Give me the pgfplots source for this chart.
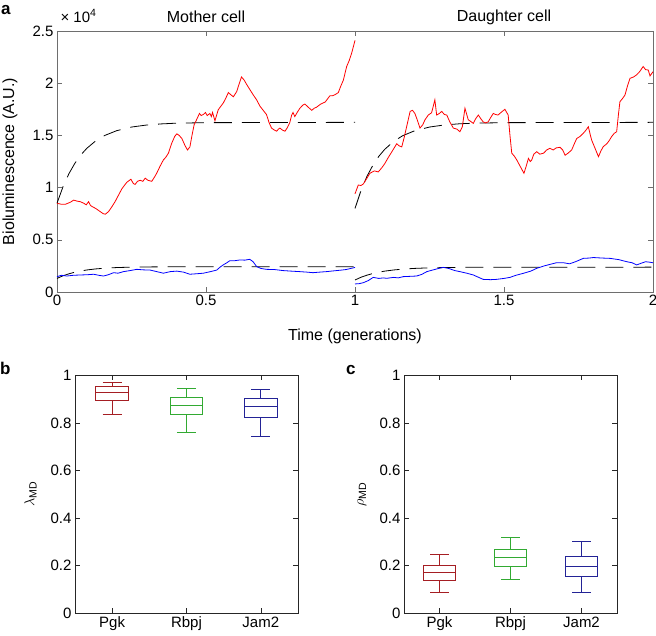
\documentclass[border=0pt]{standalone}
\usepackage{fontspec}
\setmainfont{Liberation Sans}
\usepackage{pgfplots}
\pgfplotsset{compat=1.18}
\usepgfplotslibrary{statistics}
\definecolor{pgkc}{RGB}{165,30,35}
\definecolor{rbpjc}{RGB}{50,170,50}
\definecolor{jamc}{RGB}{35,35,150}
\definecolor{fr}{RGB}{110,110,110}
\begin{document}
\begin{tikzpicture}
\useasboundingbox (0,0) rectangle (656pt,636pt);
\pgfplotsset{
  every axis/.append style={
    scale only axis, anchor=south west,
    tick align=inside, major tick length=5pt,
    /pgf/number format/assume math mode=true,
    tick label style={font=\fontsize{15}{18}\selectfont},
    label style={font=\fontsize{16}{19}\selectfont},
  }
}
% ---------- panel a ----------
\begin{axis}[at={(57pt,344pt)}, width=596pt, height=261pt,
  xmin=0, xmax=2, ymin=0, ymax=2.5,
  xtick={0,0.5,1,1.5,2}, ytick={0,0.5,1,1.5,2,2.5},
  axis line style={fr}, tick style={fr},
  xlabel={Time (generations)}, ylabel={Bioluminescence (A.U.)},
  xlabel style={at={(axis description cs:0.5,-0.17)}, anchor=center},
  ylabel style={at={(axis description cs:-0.079,0.5)}, anchor=center, rotate=0},
  clip=false]
% model curves (dashed)
\addplot[black, line width=0.8pt, dash pattern=on 18pt off 10pt] coordinates {
(0,0.85) (0.02,1.007) (0.04,1.133) (0.06,1.233) (0.08,1.313) (0.1,1.376) (0.13,1.448) (0.16,1.499) (0.2,1.545) (0.25,1.58) (0.3,1.599) (0.35,1.61) (0.4,1.617) (0.5,1.622) (1.0,1.625)};
\addplot[black, line width=0.8pt, dash pattern=on 18pt off 10pt] coordinates {
(1.0,0.80) (1.02,0.971) (1.04,1.107) (1.06,1.214) (1.08,1.30) (1.1,1.367) (1.13,1.443) (1.16,1.497) (1.2,1.544) (1.25,1.58) (1.3,1.60) (1.35,1.611) (1.4,1.617) (1.5,1.622) (2.0,1.625)};
\addplot[black, line width=0.8pt, dash pattern=on 18pt off 10pt] coordinates {
(0,0.13) (0.02,0.155) (0.04,0.174) (0.06,0.19) (0.08,0.201) (0.1,0.211) (0.13,0.221) (0.16,0.228) (0.2,0.234) (0.25,0.238) (0.3,0.24) (0.4,0.242) (1.0,0.242)};
\addplot[black, line width=0.8pt, dash pattern=on 18pt off 10pt] coordinates {
(1.0,0.115) (1.02,0.141) (1.04,0.161) (1.06,0.177) (1.08,0.19) (1.1,0.2) (1.13,0.211) (1.16,0.219) (1.2,0.226) (1.25,0.2315) (1.3,0.234) (1.4,0.237) (2.0,0.238)};
% mother red
\addplot[red, line width=0.8pt] coordinates {
(0,0.85) (0.015,0.84) (0.028,0.84) (0.045,0.86) (0.056,0.88) (0.068,0.87) (0.078,0.865) (0.09,0.85) (0.098,0.835) (0.106,0.865) (0.112,0.83) (0.117,0.82) (0.13,0.80) (0.145,0.77) (0.155,0.75) (0.162,0.745) (0.173,0.77) (0.185,0.82) (0.195,0.866) (0.205,0.92) (0.218,0.99) (0.234,1.05) (0.248,1.08) (0.256,1.04) (0.262,1.03) (0.27,1.06) (0.279,1.07) (0.288,1.06) (0.296,1.09) (0.305,1.07) (0.318,1.06) (0.327,1.10) (0.335,1.14) (0.345,1.20) (0.357,1.265) (0.365,1.29) (0.374,1.33) (0.385,1.425) (0.395,1.49) (0.402,1.515) (0.41,1.50) (0.419,1.47) (0.43,1.40) (0.438,1.36) (0.446,1.39) (0.453,1.50) (0.46,1.60) (0.47,1.66) (0.478,1.71) (0.484,1.69) (0.491,1.70) (0.498,1.72) (0.504,1.69) (0.513,1.71) (0.518,1.68) (0.522,1.72) (0.53,1.64) (0.541,1.745) (0.55,1.78) (0.558,1.81) (0.567,1.86) (0.575,1.91) (0.583,1.89) (0.592,1.87) (0.603,1.92) (0.612,2.0) (0.619,2.06) (0.628,2.03) (0.636,1.99) (0.647,1.94) (0.658,1.89) (0.67,1.84) (0.681,1.78) (0.692,1.74) (0.703,1.70) (0.712,1.62) (0.72,1.57) (0.73,1.55) (0.737,1.54) (0.743,1.56) (0.748,1.57) (0.757,1.55) (0.765,1.54) (0.772,1.57) (0.781,1.62) (0.787,1.69) (0.792,1.72) (0.798,1.68) (0.806,1.72) (0.815,1.76) (0.825,1.79) (0.832,1.80) (0.843,1.77) (0.855,1.74) (0.863,1.76) (0.871,1.77) (0.885,1.80) (0.9,1.82) (0.908,1.85) (0.916,1.88) (0.925,1.88) (0.933,1.89) (0.944,1.91) (0.952,1.97) (0.961,2.03) (0.972,2.16) (0.981,2.22) (0.989,2.29) (1.0,2.41)};
% daughter red
\addplot[red, line width=0.8pt] coordinates {
(1.0,0.94) (1.011,1.025) (1.02,1.02) (1.028,1.035) (1.04,1.09) (1.05,1.137) (1.065,1.16) (1.078,1.15) (1.09,1.19) (1.1,1.23) (1.112,1.29) (1.123,1.34) (1.14,1.42) (1.148,1.40) (1.157,1.39) (1.165,1.48) (1.173,1.58) (1.185,1.73) (1.193,1.74) (1.201,1.71) (1.21,1.64) (1.218,1.57) (1.227,1.60) (1.235,1.65) (1.246,1.695) (1.257,1.717) (1.268,1.84) (1.274,1.695) (1.283,1.71) (1.291,1.73) (1.3,1.70) (1.308,1.695) (1.318,1.63) (1.33,1.57) (1.342,1.56) (1.352,1.535) (1.36,1.58) (1.369,1.76) (1.375,1.70) (1.38,1.65) (1.39,1.63) (1.397,1.615) (1.405,1.66) (1.414,1.695) (1.422,1.66) (1.43,1.63) (1.438,1.62) (1.447,1.63) (1.455,1.67) (1.464,1.71) (1.472,1.70) (1.48,1.695) (1.49,1.72) (1.503,1.75) (1.514,1.695) (1.52,1.50) (1.526,1.33) (1.535,1.30) (1.543,1.264) (1.555,1.20) (1.567,1.137) (1.575,1.21) (1.582,1.28) (1.588,1.25) (1.593,1.264) (1.6,1.32) (1.61,1.344) (1.62,1.32) (1.633,1.33) (1.643,1.36) (1.654,1.376) (1.665,1.36) (1.675,1.38) (1.688,1.386) (1.697,1.36) (1.705,1.31) (1.715,1.33) (1.727,1.36) (1.736,1.42) (1.744,1.47) (1.755,1.49) (1.766,1.52) (1.775,1.55) (1.783,1.583) (1.79,1.50) (1.794,1.456) (1.805,1.38) (1.817,1.296) (1.825,1.35) (1.833,1.392) (1.845,1.42) (1.853,1.45) (1.861,1.488) (1.87,1.52) (1.878,1.535) (1.884,1.70) (1.889,1.823) (1.897,1.85) (1.906,1.887) (1.915,1.98) (1.923,2.047) (1.935,2.06) (1.945,2.08) (1.955,2.11) (1.967,2.16) (1.975,2.13) (1.984,2.126) (1.99,2.07) (2.0,2.11)};
% mother blue
\addplot[blue, line width=0.8pt] coordinates {
(0,0.147) (0.015,0.16) (0.033,0.153) (0.055,0.16) (0.078,0.163) (0.1,0.165) (0.123,0.17) (0.14,0.16) (0.156,0.153) (0.172,0.165) (0.19,0.185) (0.205,0.18) (0.223,0.195) (0.245,0.205) (0.268,0.217) (0.29,0.212) (0.3125,0.21) (0.335,0.195) (0.357,0.18) (0.38,0.195) (0.402,0.20) (0.425,0.19) (0.446,0.17) (0.47,0.175) (0.491,0.18) (0.515,0.195) (0.536,0.21) (0.548,0.24) (0.558,0.26) (0.57,0.28) (0.58,0.30) (0.597,0.30) (0.614,0.307) (0.63,0.305) (0.647,0.313) (0.658,0.29) (0.67,0.243) (0.685,0.225) (0.703,0.217) (0.73,0.215) (0.759,0.205) (0.785,0.20) (0.815,0.195) (0.84,0.19) (0.859,0.185) (0.88,0.19) (0.904,0.195) (0.92,0.20) (0.9375,0.205) (0.955,0.21) (0.97,0.215) (0.985,0.225) (1.0,0.235)};
% daughter blue
\addplot[blue, line width=0.8pt] coordinates {
(1.0,0.077) (1.014,0.08) (1.028,0.089) (1.045,0.11) (1.061,0.14) (1.08,0.13) (1.095,0.135) (1.106,0.131) (1.13,0.14) (1.145,0.135) (1.162,0.147) (1.185,0.15) (1.207,0.153) (1.225,0.17) (1.241,0.195) (1.26,0.21) (1.28,0.225) (1.296,0.236) (1.315,0.225) (1.335,0.205) (1.352,0.195) (1.375,0.18) (1.397,0.163) (1.415,0.14) (1.43,0.121) (1.455,0.118) (1.475,0.121) (1.5,0.13) (1.52,0.14) (1.54,0.16) (1.565,0.179) (1.59,0.20) (1.61,0.227) (1.635,0.25) (1.655,0.265) (1.677,0.281) (1.7,0.28) (1.72,0.27) (1.74,0.29) (1.766,0.322) (1.785,0.325) (1.8,0.33) (1.83,0.325) (1.856,0.322) (1.885,0.31) (1.912,0.29) (1.93,0.28) (1.945,0.259) (1.96,0.275) (1.975,0.29) (1.99,0.285) (2.0,0.28)};
\node[font=\fontsize{16}{19}\selectfont] at (axis cs:0.5,2.5) [yshift=14pt] {Mother cell};
\node[font=\fontsize{16}{19}\selectfont] at (axis cs:1.5,2.5) [yshift=14pt] {Daughter cell};
\node[font=\fontsize{15}{18}\selectfont, anchor=west] at (rel axis cs:0,1) [xshift=0pt,yshift=15pt] {× 10\textsuperscript{4}};
\end{axis}
% ---------- panel b ----------
\begin{axis}[at={(75pt,23pt)}, width=223pt, height=237.5pt,
  xmin=0.5, xmax=3.5, ymin=0, ymax=1,
  xtick={1,2,3}, xticklabels={Pgk,Rbpj,Jam2},
  ytick={0,0.2,0.4,0.6,0.8,1},
  boxplot/draw direction=y,
  axis line style={black!85}, tick style={black!85},
  ylabel={$\lambda$\textsubscript{MD}},
  ylabel style={at={(axis description cs:-0.20,0.5)}, anchor=center, font=\fontsize{15}{17}\selectfont}]
\addplot[pgkc, line width=0.8pt, boxplot prepared={draw position=1, lower whisker=0.835, lower quartile=0.895, median=0.928, upper quartile=0.952, upper whisker=0.973, box extend=0.44, whisker extend=0.26}] coordinates {};
\addplot[rbpjc, line width=0.8pt, boxplot prepared={draw position=2, lower whisker=0.761, lower quartile=0.835, median=0.874, upper quartile=0.907, upper whisker=0.945, box extend=0.44, whisker extend=0.26}] coordinates {};
\addplot[jamc, line width=0.8pt, boxplot prepared={draw position=3, lower whisker=0.745, lower quartile=0.825, median=0.870, upper quartile=0.902, upper whisker=0.942, box extend=0.44, whisker extend=0.26}] coordinates {};
\end{axis}
% ---------- panel c ----------
\begin{axis}[at={(404pt,23pt)}, width=213pt, height=237.5pt,
  xmin=0.5, xmax=3.5, ymin=0, ymax=1,
  xtick={1,2,3}, xticklabels={Pgk,Rbpj,Jam2},
  ytick={0,0.2,0.4,0.6,0.8,1},
  boxplot/draw direction=y,
  axis line style={black!85}, tick style={black!85},
  ylabel={$\rho$\textsubscript{MD}},
  ylabel style={at={(axis description cs:-0.197,0.5)}, anchor=center, font=\fontsize{15}{17}\selectfont}]
\addplot[pgkc, line width=0.8pt, boxplot prepared={draw position=1, lower whisker=0.088, lower quartile=0.136, median=0.17, upper quartile=0.199, upper whisker=0.2456, box extend=0.44, whisker extend=0.26}] coordinates {};
\addplot[rbpjc, line width=0.8pt, boxplot prepared={draw position=2, lower whisker=0.14, lower quartile=0.195, median=0.234, upper quartile=0.268, upper whisker=0.32, box extend=0.44, whisker extend=0.26}] coordinates {};
\addplot[jamc, line width=0.8pt, boxplot prepared={draw position=3, lower whisker=0.088, lower quartile=0.153, median=0.195, upper quartile=0.24, upper whisker=0.302, box extend=0.44, whisker extend=0.26}] coordinates {};
\end{axis}
% panel letters
\node[font=\bfseries\fontsize{17}{20}\selectfont, anchor=base west, inner sep=0pt] at (1pt,621pt) {a};
\node[font=\bfseries\fontsize{17}{20}\selectfont, anchor=base west, inner sep=0pt] at (0pt,261pt) {b};
\node[font=\bfseries\fontsize{17}{20}\selectfont, anchor=base west, inner sep=0pt] at (346pt,261pt) {c};
\end{tikzpicture}
\end{document}
